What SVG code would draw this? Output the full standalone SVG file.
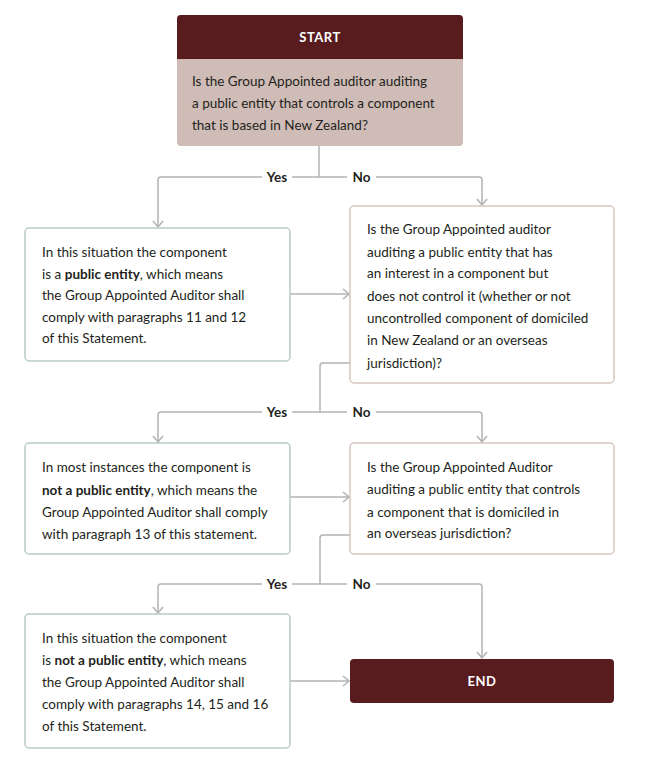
<svg xmlns="http://www.w3.org/2000/svg" width="653" height="768" viewBox="0 0 653 768">
<style>
  .t{font-family:Lato,"Open Sans","Liberation Sans",sans-serif;font-size:13.5px;fill:#231f20}
  .b{font-weight:bold}
  .lbl{font-family:Lato,"Open Sans","Liberation Sans",sans-serif;font-size:13.5px;font-weight:bold;fill:#231f20;text-anchor:middle}
  .hd{font-family:Lato,"Open Sans","Liberation Sans",sans-serif;font-size:13px;font-weight:bold;fill:#ffffff;text-anchor:middle;letter-spacing:0.5px}
  .c{fill:none;stroke:#b3b3b3;stroke-width:1.5}
  .g{fill:#ffffff;stroke:#b9ccc5;stroke-width:1.5}
  .r{fill:#ffffff;stroke:#d8c6c0;stroke-width:1.5}
</style>
<defs>
  <marker id="ah" viewBox="0 0 12 12" refX="11" refY="6" markerWidth="12" markerHeight="12" markerUnits="userSpaceOnUse" orient="auto">
    <path d="M5,1 L11,6 L5,11" fill="none" stroke="#b3b3b3" stroke-width="1.5"/>
  </marker>
</defs>
<rect width="653" height="768" fill="#ffffff"/>

<g id="connectors">
  <path class="c" d="M319,146 V177"/>
  <path class="c" d="M262,177 H161 Q158,177 158,180 V227" marker-end="url(#ah)"/>
  <path class="c" d="M292,177 H347"/>
  <path class="c" d="M376,177 H479 Q482,177 482,180 V205" marker-end="url(#ah)"/>
  <path class="c" d="M290,294 H349" marker-end="url(#ah)"/>
  <path class="c" d="M350,363 H323 Q320,363 320,366 V412"/>
  <path class="c" d="M262,412 H161 Q158,412 158,415 V442" marker-end="url(#ah)"/>
  <path class="c" d="M292,412 H347"/>
  <path class="c" d="M376,412 H479 Q482,412 482,415 V442" marker-end="url(#ah)"/>
  <path class="c" d="M290,497 H349" marker-end="url(#ah)"/>
  <path class="c" d="M350,535 H323 Q320,535 320,538 V584"/>
  <path class="c" d="M262,584 H161 Q158,584 158,587 V613" marker-end="url(#ah)"/>
  <path class="c" d="M292,584 H347"/>
  <path class="c" d="M376,584 H479 Q482,584 482,587 V658" marker-end="url(#ah)"/>
  <path class="c" d="M290,681 H349" marker-end="url(#ah)"/>
  <text class="lbl" x="277" y="182">Yes</text>
  <text class="lbl" x="361.5" y="182">No</text>
  <text class="lbl" x="277" y="417">Yes</text>
  <text class="lbl" x="361.5" y="417">No</text>
  <text class="lbl" x="277" y="589">Yes</text>
  <text class="lbl" x="361.5" y="589">No</text>
</g>

<g id="start">
  <rect x="177" y="15" width="286" height="131" rx="4" fill="#cfbcb6"/>
  <path d="M181,15 H459 Q463,15 463,19 V59 H177 V19 Q177,15 181,15 Z" fill="#581c1f"/>
  <text class="hd" x="320" y="41.5">START</text>
  <text class="t" x="192" y="86">Is the Group Appointed auditor auditing</text>
  <text class="t" x="192" y="108">a public entity that controls a component</text>
  <text class="t" x="192" y="130">that is based in New Zealand?</text>
</g>

<g id="result1">
  <rect class="g" x="25" y="228" width="265" height="133" rx="4"/>
  <text class="t" x="42" y="257">In this situation the component</text>
  <text class="t" x="42" y="278.5">is a <tspan class="b">public entity</tspan>, which means</text>
  <text class="t" x="42" y="300">the Group Appointed Auditor shall</text>
  <text class="t" x="42" y="321.5">comply with paragraphs 11 and 12</text>
  <text class="t" x="42" y="343">of this Statement.</text>
</g>

<g id="question2">
  <rect class="r" x="350" y="206" width="264" height="177" rx="4"/>
  <text class="t" x="367" y="234">Is the Group Appointed auditor</text>
  <text class="t" x="367" y="256.5">auditing a public entity that has</text>
  <text class="t" x="367" y="278">an interest in a component but</text>
  <text class="t" x="367" y="301">does not control it (whether or not</text>
  <text class="t" x="367" y="323">uncontrolled component of domiciled</text>
  <text class="t" x="367" y="345">in New Zealand or an overseas</text>
  <text class="t" x="367" y="368">jurisdiction)?</text>
</g>

<g id="result2">
  <rect class="g" x="25" y="443" width="265" height="111" rx="4"/>
  <text class="t" x="42" y="471.5">In most instances the component is</text>
  <text class="t" x="42" y="494.5"><tspan class="b">not a public entity</tspan>, which means the</text>
  <text class="t" x="42" y="516.5">Group Appointed Auditor shall comply</text>
  <text class="t" x="42" y="538.5">with paragraph 13 of this statement.</text>
</g>

<g id="question3">
  <rect class="r" x="350" y="443" width="264" height="111" rx="4"/>
  <text class="t" x="367" y="471.5">Is the Group Appointed Auditor</text>
  <text class="t" x="367" y="494">auditing a public entity that controls</text>
  <text class="t" x="367" y="516.5">a component that is domiciled in</text>
  <text class="t" x="367" y="538">an overseas jurisdiction?</text>
</g>

<g id="result3">
  <rect class="g" x="25" y="614" width="265" height="134" rx="4"/>
  <text class="t" x="42" y="643">In this situation the component</text>
  <text class="t" x="42" y="665">is <tspan class="b">not a public entity</tspan>, which means</text>
  <text class="t" x="42" y="687">the Group Appointed Auditor shall</text>
  <text class="t" x="42" y="709">comply with paragraphs 14, 15 and 16</text>
  <text class="t" x="42" y="731">of this Statement.</text>
</g>

<g id="end">
  <rect x="350" y="659" width="264" height="44" rx="4" fill="#581c1f"/>
  <text class="hd" x="482" y="686">END</text>
</g>
</svg>
